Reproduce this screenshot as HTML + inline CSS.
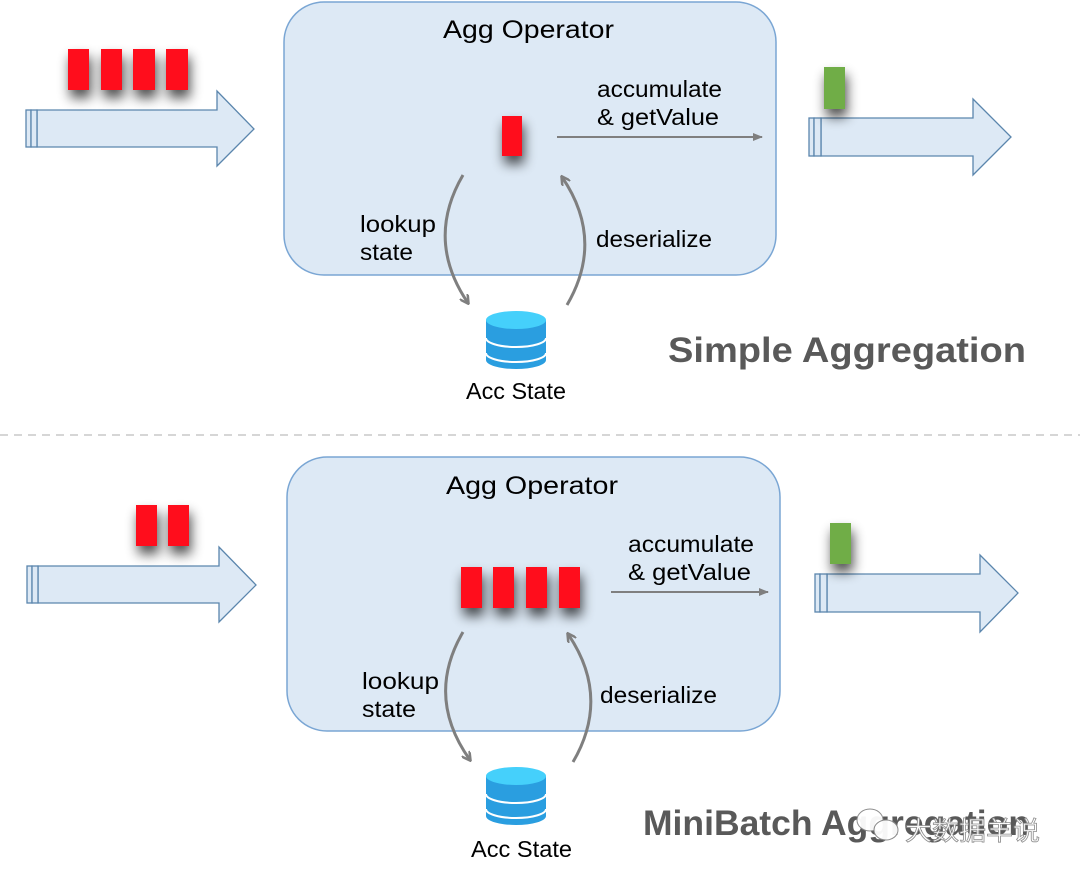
<!DOCTYPE html>
<html><head><meta charset="utf-8"><style>
body{margin:0;background:#fff;}
svg{display:block;font-family:"Liberation Sans","Noto Sans CJK SC",sans-serif;}
</style></head><body>
<svg width="1080" height="876" viewBox="0 0 1080 876" xmlns="http://www.w3.org/2000/svg">
<defs>
<filter id="sh" x="-100%" y="-100%" width="300%" height="300%"><feGaussianBlur in="SourceAlpha" stdDeviation="6"/><feOffset dx="2" dy="8"/><feComponentTransfer><feFuncA type="linear" slope="0.7"/></feComponentTransfer><feMerge><feMergeNode/><feMergeNode in="SourceGraphic"/></feMerge></filter>
<marker id="ah" markerWidth="10" markerHeight="10" refX="8" refY="5" orient="auto" markerUnits="userSpaceOnUse"><path d="M0,0 L9,5 L0,10" fill="none" stroke="#7f7f7f" stroke-width="2.5"/></marker>
<marker id="sa" markerWidth="10" markerHeight="10" refX="9" refY="5" orient="auto" markerUnits="userSpaceOnUse"><path d="M0,1 L10,5 L0,9 z" fill="#7f7f7f"/></marker>
</defs>

<!-- TOP -->
<rect x="284" y="2" width="492" height="273" rx="40" fill="#dde9f5" stroke="#7aa6d4" stroke-width="1.5"/>
<text x="443" y="38" font-size="25" textLength="171" lengthAdjust="spacingAndGlyphs">Agg Operator</text>
<path d="M37,110 L217,110 L217,91 L254,129 L217,166 L217,147 L37,147 Z" fill="#dde9f5" stroke="#5b86ad" stroke-width="1.3"/>
<rect x="26" y="110" width="5" height="37" fill="#dde9f5" stroke="#5b86ad" stroke-width="1.3"/>
<rect x="31" y="110" width="6" height="37" fill="#dde9f5" stroke="#5b86ad" stroke-width="1.3"/>
<g fill="#ff0a1e" filter="url(#sh)">
<rect x="68" y="49" width="21" height="41"/><rect x="101" y="49" width="21" height="41"/><rect x="133" y="49" width="22" height="41"/><rect x="166" y="49" width="22" height="41"/>
</g>
<path d="M821,118 L973,118 L973,99 L1011,137 L973,175 L973,156 L821,156 Z" fill="#dde9f5" stroke="#5b86ad" stroke-width="1.3"/>
<rect x="809" y="118" width="5" height="38" fill="#dde9f5" stroke="#5b86ad" stroke-width="1.3"/>
<rect x="814" y="118" width="7" height="38" fill="#dde9f5" stroke="#5b86ad" stroke-width="1.3"/>
<rect x="824" y="67" width="21" height="42" fill="#70ad47" filter="url(#sh)"/>
<rect x="502" y="116" width="20" height="40" fill="#ff0a1e" filter="url(#sh)"/>
<line x1="557" y1="137" x2="762" y2="137" stroke="#7f7f7f" stroke-width="2" marker-end="url(#sa)"/>
<text x="597" y="97" font-size="23" textLength="125" lengthAdjust="spacingAndGlyphs">accumulate</text>
<text x="597" y="125" font-size="23" textLength="122" lengthAdjust="spacingAndGlyphs">&amp; getValue</text>
<path d="M463,175 Q425,240 468,303" fill="none" stroke="#7f7f7f" stroke-width="3" marker-end="url(#ah)"/>
<path d="M567,305 Q605,240 562,177" fill="none" stroke="#7f7f7f" stroke-width="3" marker-end="url(#ah)"/>
<text x="360" y="232" font-size="23" textLength="76" lengthAdjust="spacingAndGlyphs">lookup</text>
<text x="360" y="260" font-size="23" textLength="53" lengthAdjust="spacingAndGlyphs">state</text>
<text x="596" y="247" font-size="23" textLength="116" lengthAdjust="spacingAndGlyphs">deserialize</text>
<g transform="translate(516,310)">
<path d="M-30,10 L-30,50 A30,9 0 0 0 30,50 L30,10 Z" fill="#2a9ee0"/>
<ellipse cx="0" cy="10" rx="30" ry="9" fill="#45d0fb"/>
<path d="M-30,28 A30,9 0 0 0 30,28 M-30,43 A30,9 0 0 0 30,43" fill="none" stroke="#fff" stroke-width="2"/>
</g>
<text x="466" y="399" font-size="23" textLength="100" lengthAdjust="spacingAndGlyphs">Acc State</text>
<text x="668" y="362" font-size="35" font-weight="bold" fill="#595959" textLength="358" lengthAdjust="spacingAndGlyphs">Simple Aggregation</text>

<line x1="0" y1="435" x2="1080" y2="435" stroke="#c8c8c8" stroke-width="1.5" stroke-dasharray="8,6"/>

<!-- BOTTOM -->
<rect x="287" y="457" width="493" height="274" rx="40" fill="#dde9f5" stroke="#7aa6d4" stroke-width="1.5"/>
<text x="446" y="494" font-size="25" textLength="172" lengthAdjust="spacingAndGlyphs">Agg Operator</text>
<path d="M38,566 L219,566 L219,547 L256,585 L219,622 L219,603 L38,603 Z" fill="#dde9f5" stroke="#5b86ad" stroke-width="1.3"/>
<rect x="27" y="566" width="5" height="37" fill="#dde9f5" stroke="#5b86ad" stroke-width="1.3"/>
<rect x="32" y="566" width="6" height="37" fill="#dde9f5" stroke="#5b86ad" stroke-width="1.3"/>
<g fill="#ff0a1e" filter="url(#sh)">
<rect x="136" y="505" width="21" height="41"/><rect x="168" y="505" width="21" height="41"/>
<rect x="461" y="567" width="21" height="41"/><rect x="493" y="567" width="21" height="41"/><rect x="526" y="567" width="21" height="41"/><rect x="559" y="567" width="21" height="41"/>
</g>
<path d="M827,574 L980,574 L980,555 L1018,593 L980,632 L980,612 L827,612 Z" fill="#dde9f5" stroke="#5b86ad" stroke-width="1.3"/>
<rect x="815" y="574" width="5" height="38" fill="#dde9f5" stroke="#5b86ad" stroke-width="1.3"/>
<rect x="820" y="574" width="7" height="38" fill="#dde9f5" stroke="#5b86ad" stroke-width="1.3"/>
<rect x="830" y="523" width="21" height="41" fill="#70ad47" filter="url(#sh)"/>
<line x1="611" y1="592" x2="768" y2="592" stroke="#7f7f7f" stroke-width="2" marker-end="url(#sa)"/>
<text x="628" y="552" font-size="23" textLength="126" lengthAdjust="spacingAndGlyphs">accumulate</text>
<text x="628" y="580" font-size="23" textLength="123" lengthAdjust="spacingAndGlyphs">&amp; getValue</text>
<path d="M463,632 Q425,697 470,760" fill="none" stroke="#7f7f7f" stroke-width="3" marker-end="url(#ah)"/>
<path d="M573,762 Q611,697 568,634" fill="none" stroke="#7f7f7f" stroke-width="3" marker-end="url(#ah)"/>
<text x="362" y="689" font-size="23" textLength="77" lengthAdjust="spacingAndGlyphs">lookup</text>
<text x="362" y="717" font-size="23" textLength="54" lengthAdjust="spacingAndGlyphs">state</text>
<text x="600" y="703" font-size="23" textLength="117" lengthAdjust="spacingAndGlyphs">deserialize</text>
<g transform="translate(516,766)">
<path d="M-30,10 L-30,50 A30,9 0 0 0 30,50 L30,10 Z" fill="#2a9ee0"/>
<ellipse cx="0" cy="10" rx="30" ry="9" fill="#45d0fb"/>
<path d="M-30,28 A30,9 0 0 0 30,28 M-30,43 A30,9 0 0 0 30,43" fill="none" stroke="#fff" stroke-width="2"/>
</g>
<text x="471" y="857" font-size="23" textLength="101" lengthAdjust="spacingAndGlyphs">Acc State</text>
<text x="643" y="835" font-size="35" font-weight="bold" fill="#595959" textLength="387" lengthAdjust="spacingAndGlyphs">MiniBatch Aggregation</text>
<g opacity="0.95">
<ellipse cx="870" cy="820" rx="13" ry="11" fill="#fff" stroke="#888" stroke-width="1"/>
<ellipse cx="886" cy="830" rx="12" ry="10" fill="#fff" stroke="#888" stroke-width="1"/>
<text x="905" y="840" font-size="26" fill="#fff" stroke="#888" stroke-width="0.8" textLength="135" lengthAdjust="spacingAndGlyphs">大数据羊说</text>
</g>
</svg>
</body></html>
